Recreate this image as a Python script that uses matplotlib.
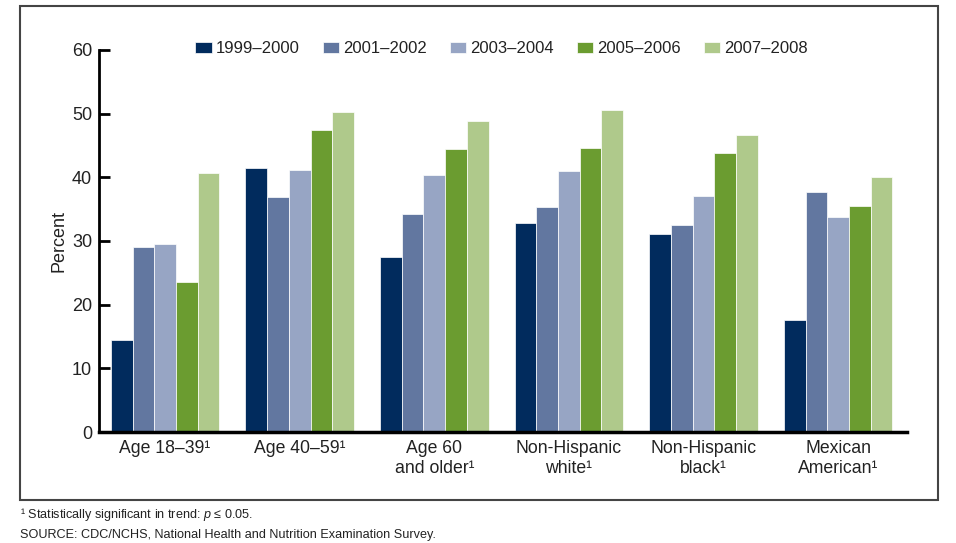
import matplotlib
matplotlib.use("Agg")
import matplotlib.pyplot as plt
import numpy as np
from matplotlib.patches import Rectangle

categories = ["Age 18–39¹", "Age 40–59¹", "Age 60\nand older¹",
              "Non-Hispanic\nwhite¹", "Non-Hispanic\nblack¹", "Mexican\nAmerican¹"]
series_names = ["1999–2000", "2001–2002", "2003–2004", "2005–2006", "2007–2008"]
values_1999_2000 = [14.4, 41.5, 27.5, 32.9, 31.1, 17.6]
values_2001_2002 = [29.0, 36.9, 34.3, 35.3, 32.5, 37.7]
values_2003_2004 = [29.6, 41.1, 40.3, 41.0, 37.1, 33.8]
values_2005_2006 = [23.6, 47.4, 44.4, 44.6, 43.8, 35.5]
values_2007_2008 = [40.7, 50.2, 48.8, 50.5, 46.6, 40.1]
series_values = [values_1999_2000, values_2001_2002, values_2003_2004,
                 values_2005_2006, values_2007_2008]
colors = ["#012b5d", "#6277a0", "#97a5c4", "#6b9c30", "#afc98b"]
yticks = [0, 10, 20, 30, 40, 50, 60]

plt.rcParams['font.family'] = ['Liberation Sans', 'DejaVu Sans']
plt.rcParams['mathtext.fontset'] = 'custom'
plt.rcParams['mathtext.it'] = 'Liberation Sans:italic'
plt.rcParams['mathtext.rm'] = 'Liberation Sans'

fig = plt.figure(figsize=(9.56, 5.43), dpi=100)
ax = fig.add_axes([0.1036, 0.2044, 0.9487 - 0.1036, 0.908 - 0.2044])

x = np.arange(len(categories))
bw = 0.161
for i, (name, vals, c) in enumerate(zip(series_names, series_values, colors)):
    ax.bar(x + (i - 2) * bw, vals, width=bw, color=c, edgecolor="white",
           linewidth=0.5, label=name, zorder=2)

ax.set_xlim(-0.49, 5.51)
ax.set_ylim(0, 60)
ax.set_yticks(yticks)
ax.set_xticks(x)
ax.set_xticklabels(categories, fontsize=12.7, color="#222222", linespacing=1.2)
ax.tick_params(axis='x', length=0, pad=6)
ax.tick_params(axis='y', direction='in', length=8, width=2, labelsize=13,
               pad=5, colors="black", labelcolor="#222222")
for s in ["top", "right"]:
    ax.spines[s].set_visible(False)
ax.spines["left"].set_linewidth(2)
ax.spines["bottom"].set_linewidth(2.5)
ax.set_ylabel("Percent", fontsize=13, color="#222222", labelpad=3)

leg = ax.legend(ncol=5, loc="upper left", bbox_to_anchor=(0.111, 1.040),
                frameon=False, fontsize=12, handlelength=1.0, handleheight=0.65,
                handletextpad=0.25, columnspacing=1.35, borderaxespad=0)
for t in leg.get_texts():
    t.set_color("#222222")

fig.patches.append(Rectangle((0.0209, 0.0792), 0.981 - 0.0209, 0.989 - 0.0792,
                             transform=fig.transFigure, fill=False,
                             edgecolor="#444444", linewidth=1.5))

fig.text(0.0209, 0.0516, "¹ Statistically significant in trend: $\\it{p}$ ≤ 0.05.",
         fontsize=9.1, family=['Liberation Sans', 'DejaVu Sans'], color="#222222",
         va="center")
fig.text(0.0209, 0.0147, "SOURCE: CDC/NCHS, National Health and Nutrition Examination Survey.",
         fontsize=9.1, family=['Liberation Sans', 'DejaVu Sans'], color="#222222",
         va="center")

fig.savefig("out.png", dpi=100)
